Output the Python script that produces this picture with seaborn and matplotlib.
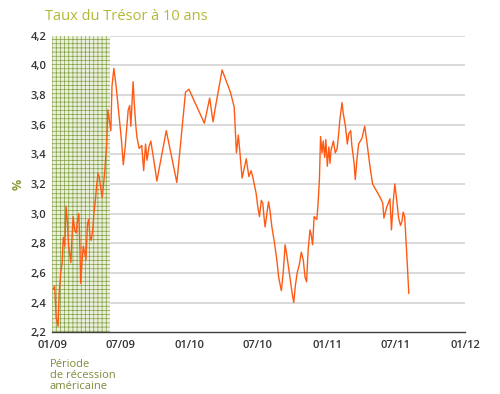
import matplotlib
matplotlib.use("Agg")
import matplotlib.pyplot as plt
import seaborn as sns
import pandas as pd

dates = [
    "2009-01-04", "2009-01-08", "2009-01-12", "2009-01-17", "2009-01-20", "2009-01-24",
    "2009-01-28", "2009-01-31", "2009-02-04", "2009-02-07", "2009-02-11", "2009-02-14",
    "2009-02-20", "2009-02-23", "2009-02-26", "2009-03-02", "2009-03-06", "2009-03-09",
    "2009-03-13", "2009-03-16", "2009-03-18", "2009-03-22", "2009-03-25", "2009-03-29",
    "2009-04-01", "2009-04-05", "2009-04-08", "2009-04-12", "2009-04-15", "2009-04-19",
    "2009-04-22", "2009-04-26", "2009-04-29", "2009-05-03", "2009-05-06", "2009-05-10",
    "2009-05-14", "2009-05-17", "2009-05-21", "2009-05-26", "2009-05-29", "2009-06-02",
    "2009-06-06", "2009-06-09", "2009-06-14", "2009-06-20", "2009-06-27", "2009-07-04",
    "2009-07-09", "2009-07-14", "2009-07-22", "2009-07-26", "2009-07-29", "2009-08-04",
    "2009-08-07", "2009-08-11", "2009-08-14", "2009-08-20", "2009-08-27", "2009-09-01",
    "2009-09-06", "2009-09-10", "2009-09-15", "2009-09-20", "2009-09-28", "2009-10-06",
    "2009-10-31", "2009-11-28", "2009-12-21", "2009-12-30", "2010-02-09", "2010-02-23",
    "2010-03-04", "2010-03-09", "2010-03-28", "2010-04-19", "2010-04-29", "2010-05-05",
    "2010-05-10", "2010-05-14", "2010-05-20", "2010-05-31", "2010-06-07", "2010-06-13",
    "2010-06-17", "2010-06-21", "2010-06-26", "2010-07-01", "2010-07-05", "2010-07-10",
    "2010-07-14", "2010-07-17", "2010-07-20", "2010-07-26", "2010-07-29", "2010-08-02",
    "2010-08-07", "2010-08-14", "2010-08-20", "2010-08-25", "2010-09-01", "2010-09-06",
    "2010-09-11", "2010-09-15", "2010-09-20", "2010-09-26", "2010-10-01", "2010-10-04",
    "2010-10-08", "2010-10-13", "2010-10-19", "2010-10-24", "2010-10-29", "2010-11-03",
    "2010-11-07", "2010-11-11", "2010-11-16", "2010-11-19", "2010-11-23", "2010-11-27",
    "2010-12-04", "2010-12-07", "2010-12-11", "2010-12-14", "2010-12-18", "2010-12-21",
    "2010-12-25", "2010-12-28", "2011-01-01", "2011-01-05", "2011-01-08", "2011-01-11",
    "2011-01-17", "2011-01-22", "2011-01-27", "2011-01-31", "2011-02-03", "2011-02-09",
    "2011-02-12", "2011-02-18", "2011-02-23", "2011-02-27", "2011-03-04", "2011-03-07",
    "2011-03-13", "2011-03-16", "2011-03-21", "2011-03-25", "2011-04-03", "2011-04-10",
    "2011-04-15", "2011-04-24", "2011-05-01", "2011-05-21", "2011-05-28", "2011-05-31",
    "2011-06-07", "2011-06-16", "2011-06-20", "2011-06-25", "2011-06-29", "2011-07-04",
    "2011-07-09", "2011-07-14", "2011-07-18", "2011-07-21", "2011-07-25", "2011-07-29",
    "2011-08-01", "2011-08-05",
]
taux = [
    2.49, 2.51, 2.30, 2.24, 2.46, 2.60,
    2.67, 2.84, 2.78, 3.05, 2.94, 2.78,
    2.67, 2.84, 2.98, 2.89, 2.87, 2.94,
    3.00, 2.78, 2.53, 2.69, 2.78, 2.73,
    2.69, 2.93, 2.96, 2.84, 2.82, 2.89,
    3.00, 3.09, 3.18, 3.27, 3.25, 3.18,
    3.11, 3.18, 3.29, 3.47, 3.70, 3.63,
    3.56, 3.86, 3.98, 3.86, 3.68, 3.50,
    3.33, 3.45, 3.70, 3.73, 3.59, 3.89,
    3.75, 3.60, 3.52, 3.44, 3.46, 3.29,
    3.47, 3.36, 3.45, 3.49, 3.36, 3.22,
    3.56, 3.21, 3.82, 3.84, 3.61, 3.78,
    3.62, 3.70, 3.97, 3.82, 3.72, 3.41,
    3.53, 3.42, 3.24, 3.37, 3.25, 3.29,
    3.25, 3.20, 3.14, 3.04, 2.98, 3.09,
    3.07, 2.98, 2.91, 3.02, 3.08, 3.02,
    2.91, 2.80, 2.69, 2.57, 2.48, 2.60,
    2.79, 2.73, 2.64, 2.53, 2.44, 2.40,
    2.51, 2.60, 2.66, 2.74, 2.69, 2.57,
    2.54, 2.75, 2.89, 2.86, 2.79, 2.98,
    2.96, 3.05, 3.23, 3.52, 3.41, 3.49,
    3.38, 3.50, 3.32, 3.45, 3.34, 3.43,
    3.49, 3.41, 3.44, 3.54, 3.63, 3.75,
    3.68, 3.59, 3.47, 3.54, 3.56, 3.46,
    3.34, 3.23, 3.38, 3.47, 3.51, 3.59,
    3.50, 3.32, 3.20, 3.11, 3.07, 2.97,
    3.04, 3.10, 2.89, 3.09, 3.20, 3.09,
    2.97, 2.92, 2.95, 3.01, 2.98, 2.80,
    2.66, 2.46,
]

recession_start = "2009-01-01"
recession_end = "2009-06-03"
x_ticks = ["2009-01-01", "2009-07-01", "2010-01-01", "2010-07-01", "2011-01-01", "2011-07-01", "2012-01-01"]
x_tick_labels = ["01/09", "07/09", "01/10", "07/10", "01/11", "07/11", "01/12"]
y_ticks = [2.2, 2.4, 2.6, 2.8, 3.0, 3.2, 3.4, 3.6, 3.8, 4.0, 4.2]
y_tick_labels = ["2,2", "2,4", "2,6", "2,8", "3,0", "3,2", "3,4", "3,6", "3,8", "4,0", "4,2"]

title = "Taux du Trésor à 10 ans"
note = "Période\nde récession\naméricaine"

df = pd.DataFrame({"date": pd.to_datetime(dates), "taux": taux})

sns.set_style("white")
plt.rcParams["font.family"] = ["Open Sans", "DejaVu Sans"]
plt.rcParams["hatch.linewidth"] = 0.5

fig = plt.figure(figsize=(5.0, 3.94), dpi=100)
ax = fig.add_axes([0.104, 0.157, 0.826, 0.752])

# gridlines
for yv in y_ticks[1:]:
    ax.axhline(yv, color="#d9d9d9", lw=1.4, zorder=0)

# recession shading
ax.axvspan(pd.Timestamp(recession_start), pd.Timestamp(recession_end),
           facecolor="#eaf0dc", edgecolor="none", zorder=1)
ax.axvspan(pd.Timestamp(recession_start), pd.Timestamp(recession_end),
           facecolor="none", edgecolor="#83a044", hatch="++++", lw=0, zorder=1)

sns.lineplot(data=df, x="date", y="taux", ax=ax, color="#ff5a14", lw=1.0, zorder=3)

ax.set_xlim(pd.Timestamp("2009-01-01"), pd.Timestamp("2012-01-01"))
ax.set_ylim(2.2, 4.2)
ax.set_xticks(pd.to_datetime(x_ticks))
ax.set_xticklabels(x_tick_labels)
ax.set_yticks(y_ticks)
ax.set_yticklabels(y_tick_labels)

for s in ["top", "right", "left"]:
    ax.spines[s].set_visible(False)
ax.spines["bottom"].set_color("#404040")
ax.spines["bottom"].set_linewidth(1.0)
ax.tick_params(axis="x", direction="in", length=5, width=1, color="#404040",
               labelsize=8, labelcolor="#333333", pad=6)
ax.tick_params(axis="y", length=0, labelsize=8, labelcolor="#333333", pad=4)
for lab in ax.get_xticklabels() + ax.get_yticklabels():
    lab.set_fontweight("semibold")

ax.set_xlabel("")
ax.set_ylabel("%", color="#8a9a3a", fontsize=9, fontweight="bold", labelpad=4)

fig.text(0.09, 0.958, title, color="#b2b834", fontsize=10.5, ha="left", va="center")
fig.text(0.10, 0.09, note, color="#7d8c3c", fontsize=8, ha="left", va="top",
         linespacing=1.0)

fig.savefig("out.png", dpi=100)
